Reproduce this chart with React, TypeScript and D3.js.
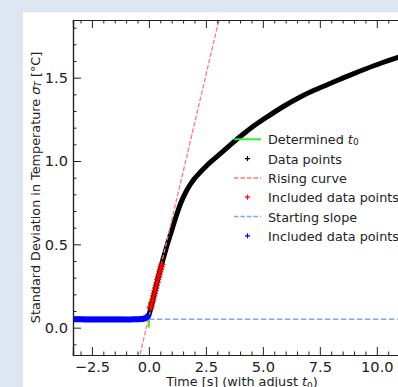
import { useEffect, useRef } from "react";
import * as d3 from "d3";

// black "Data points" (time s, std dev °C)
const dataT = [-3.33, -2.5, -1.5, -0.6, -0.3, -0.12, 0, 0.1, 0.2, 0.3, 0.4, 0.5, 0.6, 0.7, 0.8, 0.9, 1.0, 1.2, 1.4, 1.6, 1.8, 2.0, 2.25, 2.5, 2.75, 3.2, 3.7, 4.2, 4.7, 5.2, 5.9, 6.6, 7.3, 8.1, 8.8, 9.5, 10.2, 11.0, 11.6];
const dataY = [0.05, 0.05, 0.05, 0.05, 0.052, 0.058, 0.078, 0.125, 0.183, 0.24, 0.296, 0.35, 0.4, 0.448, 0.495, 0.54, 0.582, 0.67, 0.748, 0.808, 0.856, 0.894, 0.932, 0.967, 0.999, 1.052, 1.112, 1.168, 1.22, 1.266, 1.327, 1.381, 1.427, 1.474, 1.514, 1.552, 1.588, 1.625, 1.65];

// red "Included data points" on the rising part
const redT = [0.06, 0.09, 0.12, 0.15, 0.18, 0.21, 0.24, 0.27, 0.3, 0.33, 0.36, 0.39, 0.42, 0.45, 0.48, 0.51, 0.54, 0.57];
const redY = [0.118, 0.128, 0.143, 0.158, 0.173, 0.19, 0.206, 0.222, 0.238, 0.255, 0.272, 0.288, 0.304, 0.32, 0.335, 0.35, 0.365, 0.38];

// blue "Included data points" before t0
const blueT = [-3.33, -3.0, -2.5, -2.0, -1.5, -1.0, -0.6, -0.4, -0.25, -0.15, -0.08, -0.03, 0];
const blueY = [0.05, 0.05, 0.049, 0.049, 0.049, 0.049, 0.05, 0.051, 0.053, 0.058, 0.064, 0.071, 0.08];

// fitted lines
const risingSlope = 0.58;
const risingIntercept = 0.064;
const startingLevel = 0.05;
const t0Segment = [0.0, 0.155];

const xTicks = [-2.5, 0.0, 2.5, 5.0, 7.5, 10.0];
const yTicks = [0.0, 0.5, 1.0, 1.5];

const legendItems = [
  { label: "Determined", sub: "0", kind: "line", color: "#33ee33" },
  { label: "Data points", kind: "plus", color: "#000" },
  { label: "Rising curve", kind: "dash", color: "#ff7777" },
  { label: "Included data points", kind: "plus", color: "#ff0000" },
  { label: "Starting slope", kind: "dash", color: "#7fa6f2" },
  { label: "Included data points", kind: "plus", color: "#0000ff" },
];

export default function App() {
  const svgRef = useRef<SVGSVGElement>(null);
  const width = 398,
    height = 387,
    margin = { left: 73, top: 20, right: 411, bottom: 355 };

  useEffect(() => {
    const svg = d3.select(svgRef.current);
    svg.selectAll("*").remove();

    svg.append("rect").attr("width", width).attr("height", height).attr("fill", "#dde6f1");
    svg.append("rect").attr("x", 23).attr("y", 12.5).attr("width", width).attr("height", height).attr("fill", "#fff");

    const x = d3.scaleLinear().domain([-3.33, 11.5]).range([margin.left, margin.right]);
    const y = d3.scaleLinear().domain([-0.164, 1.846]).range([margin.bottom, margin.top]);

    svg.append("defs").append("clipPath").attr("id", "plot")
      .append("rect")
      .attr("x", margin.left).attr("y", margin.top)
      .attr("width", margin.right - margin.left).attr("height", margin.bottom - margin.top);

    const plot = svg.append("g").attr("clip-path", "url(#plot)");

    // determined t0
    plot.append("line")
      .attr("x1", x(0)).attr("x2", x(0))
      .attr("y1", y(t0Segment[0])).attr("y2", y(t0Segment[1]))
      .attr("stroke", "#33ee33").attr("stroke-width", 2);

    const line = d3.line<number>()
      .x((d, i) => x(dataT[i]))
      .y((d) => y(d))
      .curve(d3.curveCatmullRom);

    plot.append("path")
      .attr("d", line(dataY))
      .attr("fill", "none")
      .attr("stroke", "#000")
      .attr("stroke-width", 5);

    // rising curve
    const [d0, d1] = x.domain();
    plot.append("line")
      .attr("x1", x(d0)).attr("y1", y(risingSlope * d0 + risingIntercept))
      .attr("x2", x(d1)).attr("y2", y(risingSlope * d1 + risingIntercept))
      .attr("stroke", "#ff7777").attr("stroke-width", 1.3)
      .attr("stroke-dasharray", "4.5,2");

    const plus = (g: any, px: number, py: number, s: number, color: string, w = 1) => {
      g.append("path")
        .attr("d", `M${px - s},${py}H${px + s}M${px},${py - s}V${py + s}`)
        .attr("stroke", color).attr("stroke-width", w).attr("fill", "none");
    };

    redY.forEach((v, i) => plus(plot, x(redT[i]), y(v), 3.6, "#ff0000", 1.4));

    // starting slope
    plot.append("line")
      .attr("x1", x(0)).attr("x2", x(d1))
      .attr("y1", y(startingLevel)).attr("y2", y(startingLevel))
      .attr("stroke", "#7fa6f2").attr("stroke-width", 1.5)
      .attr("stroke-dasharray", "5.5,2.5");

    const blueLine = d3.line<number>()
      .x((d, i) => x(blueT[i]))
      .y((d) => y(d))
      .curve(d3.curveMonotoneX);
    plot.append("path")
      .attr("d", blueLine(blueY))
      .attr("fill", "none")
      .attr("stroke", "#0000ff")
      .attr("stroke-width", 6);

    // axes
    const font = "DejaVu Sans, sans-serif";
    const styleAxis = (g: any) => {
      g.select(".domain").attr("stroke", "#222").attr("stroke-width", 1.2);
      g.selectAll(".tick line").attr("stroke", "#222").attr("stroke-width", 1);
      g.selectAll("text").attr("font-family", font).attr("font-size", 14.6).attr("fill", "#222");
    };
    const fmt = d3.format(".1f");
    const xMinor = d3.range(-3.0, 11.6, 0.5).filter((v) => Math.abs(v / 2.5 - Math.round(v / 2.5)) > 0.01);
    const yMinor = d3.range(-0.1, 1.85, 0.1).filter((v) => Math.abs(v / 0.5 - Math.round(v / 0.5)) > 0.01);

    svg.append("g").attr("transform", `translate(0,${margin.bottom})`)
      .call(d3.axisBottom(x).tickValues(xMinor).tickSize(-3.5).tickFormat(() => ""))
      .call(styleAxis);
    svg.append("g").attr("transform", `translate(0,${margin.bottom})`)
      .call(d3.axisBottom(x).tickValues(xTicks).tickSize(-8).tickPadding(3.5).tickFormat((d: any) => fmt(d)))
      .call(styleAxis)
      .call((g: any) => g.selectAll("text").attr("dy", "0.95em"));
    svg.append("g").attr("transform", `translate(0,${margin.top})`)
      .call(d3.axisTop(x).tickValues(xMinor).tickSize(-3.5).tickFormat(() => ""))
      .call(styleAxis);
    svg.append("g").attr("transform", `translate(0,${margin.top})`)
      .call(d3.axisTop(x).tickValues(xTicks).tickSize(-8).tickFormat(() => ""))
      .call(styleAxis);
    svg.append("g").attr("transform", `translate(${margin.left},0)`)
      .call(d3.axisLeft(y).tickValues(yMinor).tickSize(-3.5).tickFormat(() => ""))
      .call(styleAxis);
    svg.append("g").attr("transform", `translate(${margin.left},0)`)
      .call(d3.axisLeft(y).tickValues(yTicks).tickSize(-8).tickPadding(5).tickFormat((d: any) => fmt(d)))
      .call(styleAxis);

    // axis labels
    const yl = svg.append("text")
      .attr("transform", `translate(35,${(margin.top + margin.bottom) / 2}) rotate(-90)`)
      .attr("text-anchor", "middle")
      .attr("dominant-baseline", "central")
      .attr("font-family", font).attr("font-size", 12.8).attr("fill", "#222");
    yl.append("tspan").text("Standard Deviation in Temperature ");
    yl.append("tspan").attr("font-style", "italic").text("σ");
    yl.append("tspan").attr("font-style", "italic").attr("font-size", 9).attr("dy", 3).text("T");
    yl.append("tspan").attr("dy", -3).text(" [°C]");

    const xl = svg.append("text")
      .attr("x", (margin.left + margin.right) / 2).attr("y", 386)
      .attr("text-anchor", "middle")
      .attr("font-family", font).attr("font-size", 12.8).attr("fill", "#222");
    xl.append("tspan").text("Time [s] (with adjust ");
    xl.append("tspan").attr("font-style", "italic").text("t");
    xl.append("tspan").attr("font-size", 9).attr("dy", 3).text("0");
    xl.append("tspan").attr("dy", -3).text(")");

    // legend
    const lg = svg.append("g");
    legendItems.forEach((it, i) => {
      const ly = 139.3 + i * 19.3;
      if (it.kind === "line") {
        lg.append("line").attr("x1", 234).attr("x2", 261).attr("y1", ly).attr("y2", ly)
          .attr("stroke", it.color).attr("stroke-width", 2);
      } else if (it.kind === "dash") {
        lg.append("line").attr("x1", 234).attr("x2", 261).attr("y1", ly).attr("y2", ly)
          .attr("stroke", it.color).attr("stroke-width", 1.5).attr("stroke-dasharray", "4.5,2");
      } else {
        plus(lg, 247.5, ly, 2.5, it.color, 1.2);
      }
      const t = lg.append("text").attr("x", 268).attr("y", ly)
        .attr("dominant-baseline", "central")
        .attr("font-family", font).attr("font-size", 12.8).attr("fill", "#222");
      t.append("tspan").text(it.label + " ");
      if (it.sub) {
        t.append("tspan").attr("font-style", "italic").text("t");
        t.append("tspan").attr("font-size", 9).attr("dy", 3).text(it.sub);
      }
    });
  }, []);

  return (
    <div style={{ position: "fixed", left: 0, top: 0 }}>
      <svg ref={svgRef} width={width} height={height} style={{ display: "block" }} />
    </div>
  );
}
